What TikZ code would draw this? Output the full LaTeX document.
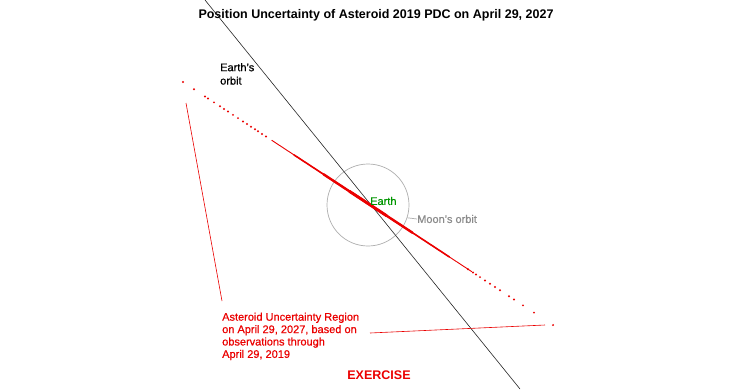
\documentclass[tikz,border=0pt]{standalone}
\usepackage{fontspec}
\setmainfont{Liberation Sans}
\usetikzlibrary{positioning,calc}
\definecolor{regionred}{RGB}{235,0,0}
\definecolor{earthgreen}{RGB}{0,150,0}
\definecolor{moongray}{RGB}{140,140,140}
\tikzset{
    every node/.style={font=\fontsize{11}{12.4}\selectfont\addfontfeature{FakeBold=0.6}, inner sep=0pt},
    orbitline/.style={draw=black!85, line width=0.6pt},
    moonline/.style={draw=moongray!70, line width=0.7pt},
    pointer/.style={draw=regionred, line width=0.6pt},
    regionline/.style={draw=regionred, line cap=round},
    redtext/.style={text=regionred, align=left},
    headline/.style={font=\fontsize{12.5}{14}\selectfont\bfseries}
}

\begin{document}
\begin{tikzpicture}[
    x=1pt, y=-1pt,
    % pixel grid of the original
]
\useasboundingbox (0,0) rectangle (744,389);
\fill[white] (0,0) rectangle (744,389);

\coordinate (orbitN) at (205,0);
\coordinate (orbitS) at (520,389);
\coordinate (regionNW) at (183,82);
\coordinate (regionSE) at (553,325);
\coordinate (ptrNW) at (186,103);
\coordinate (ptrSW) at (222,301);
\coordinate (ptrW) at (370,333);
\coordinate (ptrE) at (545,325);

\node[headline] (title) at (376,15) {Position Uncertainty of Asteroid 2019 PDC on April 29, 2027};
\node[circle, moonline, minimum size=82pt] (moon) at (368,205) {};
\draw[orbitline] (orbitN) -- (orbitS);

% sparse ends of the region
\foreach \x in {183,194,205,208,214,220,224,228,233,238,243,247,251,255,258,262,266,
                468,473,476,480,485,490,495,500,509,514,523,534,553}
    \fill[regionred] (\x,{82+0.657*(\x-183)}) circle (1.1);
% dense middle
\draw[regionline, line width=0.9pt] ($(regionNW)!0.24!(regionSE)$) -- ($(regionNW)!0.78!(regionSE)$);
\draw[regionline, line width=1.6pt] ($(regionNW)!0.3!(regionSE)$) -- ($(regionNW)!0.72!(regionSE)$);
\draw[regionline, line width=2.4pt] ($(regionNW)!0.38!(regionSE)$) -- ($(regionNW)!0.62!(regionSE)$);
\draw[regionline, line width=2.9pt] ($(regionNW)!0.45!(regionSE)$) -- ($(regionNW)!0.55!(regionSE)$);

\node[anchor=west, text=earthgreen] (earth) at (370,201) {Earth};
\node[anchor=north west, align=left] (orbitlabel) at (220,63) {Earth's\\[1pt]orbit};
\node[anchor=west, text=moongray] (moonlabel) at (417,219) {Moon's orbit};
\draw[moonline] (moon.-18) -- (moonlabel.west);

\node[redtext, anchor=north west] (region) at (222,312.5) {Asteroid Uncertainty Region\\on April 29, 2027, based on\\observations through\\April 29, 2019};
\draw[pointer] (ptrNW) -- (ptrSW);
\draw[pointer] (ptrW) -- (ptrE);

\node[headline, text=regionred] (exercise) at (379,375) {EXERCISE};
\end{tikzpicture}
\end{document}
